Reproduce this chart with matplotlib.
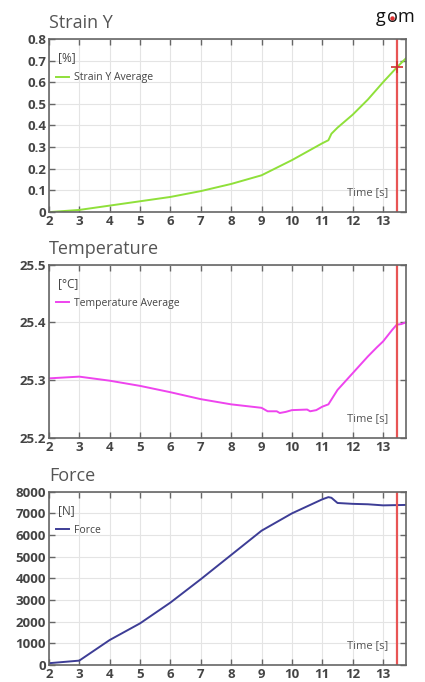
import matplotlib.pyplot as plt
from matplotlib.lines import Line2D
import numpy as np

plt.rcParams['font.family'] = ['Open Sans', 'DejaVu Sans']

# Strain Y [%] over time [s]
strain_t = [2, 3, 4, 5, 6, 7, 8, 9, 10, 11, 11.2, 11.3, 11.5, 12, 12.5, 13, 13.45, 13.75]
strain_y = [0.0, 0.01, 0.03, 0.05, 0.07, 0.097, 0.13, 0.17, 0.24, 0.318, 0.332, 0.362, 0.39,
            0.45, 0.52, 0.60, 0.668, 0.71]

# Temperature [°C] over time [s]
temp_t = [2, 3, 4, 5, 6, 7, 8, 9, 9.2, 9.5, 9.6, 9.8, 10, 10.5, 10.6, 10.8, 11, 11.2,
          11.5, 12, 12.5, 12.8, 13, 13.3, 13.45, 13.6, 13.75]
temp_y = [25.303, 25.306, 25.299, 25.290, 25.279, 25.267, 25.258, 25.252, 25.246, 25.246,
          25.243, 25.245, 25.248, 25.249, 25.246, 25.248, 25.254, 25.258, 25.283, 25.312,
          25.341, 25.357, 25.367, 25.387, 25.396, 25.397, 25.400]

# Force [N] over time [s]
force_t = [2, 3, 4, 5, 6, 7, 8, 9, 10, 11, 11.2, 11.3, 11.5, 12, 12.5, 13, 13.75]
force_y = [80, 200, 1150, 1920, 2880, 3960, 5080, 6200, 7000, 7650, 7750, 7720, 7480,
           7440, 7420, 7370, 7390]

cursor_t = 13.45
x_ticks = list(range(2, 14))

panels = [
    dict(title='Strain Y', unit='[%]', label='Strain Y Average', t=strain_t, y=strain_y,
         color='#8fe03a', ylim=(0, 0.8), yticks=np.arange(0, 0.81, 0.1),
         yfmt=lambda v: '0' if v == 0 else f'{v:.1f}', bottom=0.689),
    dict(title='Temperature', unit='[°C]', label='Temperature Average', t=temp_t, y=temp_y,
         color='#ee44ee', ylim=(25.2, 25.5), yticks=[25.2, 25.3, 25.4, 25.5],
         yfmt=lambda v: f'{v:.1f}', bottom=0.358),
    dict(title='Force', unit='[N]', label='Force', t=force_t, y=force_y,
         color='#3d3d96', ylim=(0, 8000), yticks=np.arange(0, 8001, 1000),
         yfmt=lambda v: f'{v:.0f}', bottom=0.025),
]

fig = plt.figure(figsize=(4.25, 6.82), dpi=100)

for p in panels:
    ax = fig.add_axes([0.115, p['bottom'], 0.84, 0.254])
    ax.plot(p['t'], p['y'], color=p['color'], lw=1.4, label=p['label'])
    ax.axvline(cursor_t, color='#e85555', lw=1.6)
    ax.set_xlim(2, 13.75)
    ax.set_ylim(*p['ylim'])
    ax.set_xticks(x_ticks)
    ax.set_xticklabels([str(v) for v in x_ticks], fontweight='bold')
    ax.set_yticks(p['yticks'])
    ax.set_yticklabels([p['yfmt'](v) for v in p['yticks']], fontweight='bold')
    ax.grid(True, color='#e4e4e4', lw=0.8)
    ax.set_axisbelow(True)
    ax.tick_params(direction='in', top=True, right=True, length=4, width=1,
                   color='#666666', labelsize=9.5, labelcolor='#444444', pad=2)
    for s in ax.spines.values():
        s.set_color('#666666')
        s.set_linewidth(1.2)
    ax.text(0.0, 1.04, p['title'], transform=ax.transAxes, fontsize=13,
            color='#555555', ha='left', va='bottom')
    ax.text(0.025, 0.93, p['unit'], transform=ax.transAxes, fontsize=8.5,
            color='#444444', ha='left', va='top')
    ax.legend(loc='upper left', bbox_to_anchor=(0.0, 0.85), frameon=False,
              fontsize=7.5, handlelength=1.2, handletextpad=0.5, labelcolor='#444444',
              borderaxespad=0.3)
    ax.text(0.95, 0.08, 'Time [s]', transform=ax.transAxes, fontsize=8,
            color='#555555', ha='right', va='bottom')

# cursor marker on strain curve
fig.axes[0].plot([cursor_t], [0.668], marker='+', color='#d03030', ms=8, mew=1.2)

# logo
for ch, px in zip('gom', (381, 392, 406)):
    fig.text(px / 425, 1 - 22 / 682, ch, fontsize=13, color='#111111',
             ha='center', va='baseline')
fig.add_artist(Line2D([392 / 425], [1 - 17.5 / 682], marker='o', ms=2.2, color='#e03030',
                      transform=fig.transFigure))

fig.savefig('out.png', dpi=100)
